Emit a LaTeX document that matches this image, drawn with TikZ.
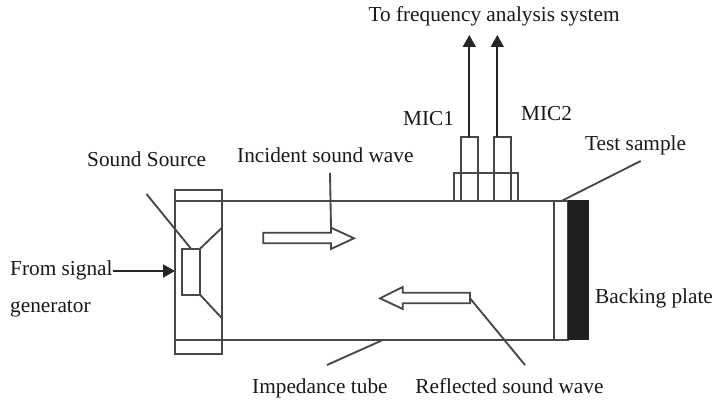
\documentclass[tikz,border=0pt]{standalone}
\usepackage{fontspec}
\setmainfont{Liberation Serif}
\usetikzlibrary{arrows.meta}
\tikzset{
 ln/.style={draw=black!72,line width=1.85pt},
 lbl/.style={inner sep=0pt,anchor=base west,font=\fontsize{21.3}{24}\selectfont,text=black!90},
 sig/.style={draw=black!85,line width=1.85pt,-{Triangle[length=12pt,width=13pt]}},
}
\begin{document}
\begin{tikzpicture}[x=1pt,y=-1pt]
\useasboundingbox (0,0) rectangle (713,401);
\fill[white] (0,0) rectangle (713,401);
% tube
\coordinate (tl) at (175,200.7); \coordinate (tr) at (568,200.7);
\coordinate (bl) at (175,340); \coordinate (br) at (568,340);
\draw[ln] (tl) -- (tr);
\draw[ln] (bl) -- (br);
\draw[ln] (175,190) rectangle (221.7,354);
\draw[ln] (182,248.7) rectangle (200,294.7);
\draw[ln] (200,248.7) -- (221.7,228);
\draw[ln] (200,294.7) -- (221.7,318);
\draw[ln] (146.5,194) -- (191,248.7);
% sample and plate
\draw[ln] (554,200.7) rectangle (568.3,340);
\fill[black!88] (568.3,200) rectangle (589,340);
\draw[ln] (562,200.7) -- (640.7,161);
% mics
\draw[ln] (461,136.7) rectangle (477.7,200.7);
\draw[ln] (494,136.7) rectangle (511,200.7);
\draw[ln] (454,172.7) rectangle (518,200.7);
\coordinate (m1) at (469.3,136.7); \coordinate (m1t) at (469.3,35);
\coordinate (m2) at (497.3,136.7); \coordinate (m2t) at (497.3,35);
\draw[sig] (m1) -- (m1t);
\draw[sig] (m2) -- (m2t);
% signal arrow
\coordinate (s0) at (113,271); \coordinate (s1) at (175,271);
\draw[sig] (s0) -- (s1);
% hollow arrows
\draw[ln,fill=white] (263.3,232.7) -- (331,232.7) -- (331,227.7) -- (354,238.3) -- (331,249) -- (331,243.3) -- (263.3,243.3) -- cycle;
\draw[ln,fill=white] (470,292.7) -- (402.7,292.7) -- (402.7,287) -- (380,298.3) -- (402.7,309) -- (402.7,303.3) -- (470,303.3) -- cycle;
\draw[ln] (330,173) -- (331,227.7);
\draw[ln] (470,298.3) -- (525,365);
\draw[ln] (381.7,340.5) -- (327,365);
% labels
\node[lbl] (t1) at (368.3,21.7) {To frequency analysis system};
\node[lbl] (t2) at (403,126) {MIC1};
\node[lbl] (t3) at (521,121) {MIC2};
\node[lbl] (t4) at (585,150.7) {Test sample};
\node[lbl] (t5) at (87,166.7) {Sound Source};
\node[lbl] (t6) at (237,162.7) {Incident sound wave};
\node[lbl] (t7) at (10,276) {From signal};
\node[lbl] (t8) at (10,312.7) {generator};
\node[lbl] (t9) at (595,303) {Backing plate};
\node[lbl] (t10) at (252,393) {Impedance tube};
\node[lbl] (t11) at (415.2,393) {Reflected sound wave};
\end{tikzpicture}
\end{document}
